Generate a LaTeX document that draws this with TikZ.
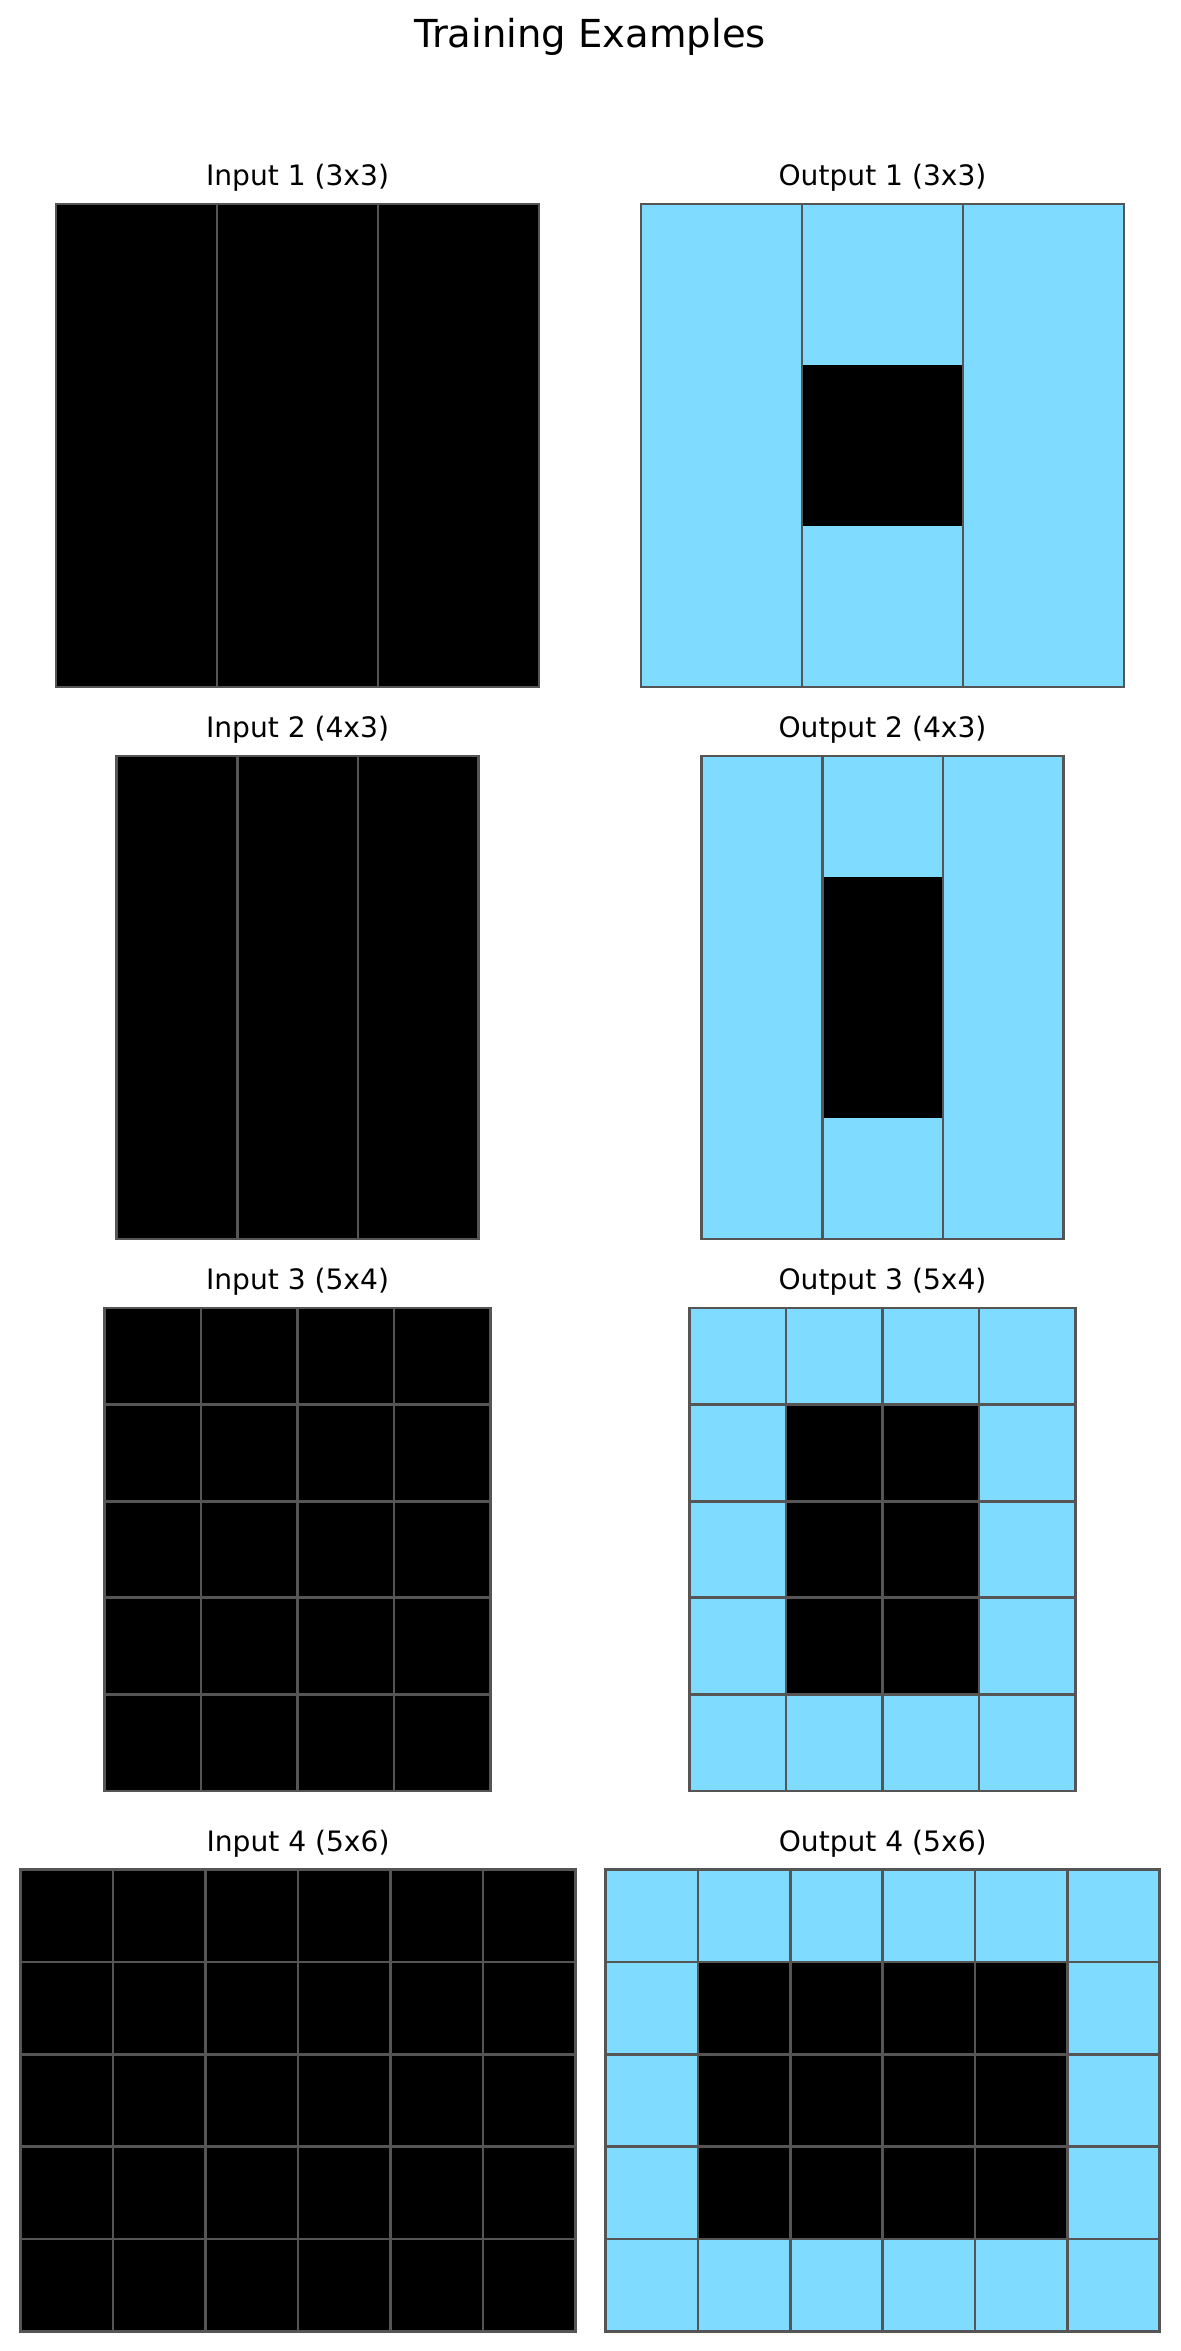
\documentclass[tikz,border=0pt]{standalone}
\usepackage{fontspec}
\setmainfont{DejaVu Sans}
\definecolor{arcblue}{HTML}{7FDBFF}
\definecolor{gridgray}{HTML}{555555}
\tikzset{
  celltext/.style={font=\fontsize{13.5}{16}\selectfont, inner sep=0pt},
  titletext/.style={font=\fontsize{18.5}{22}\selectfont, inner sep=0pt},
  gridline/.style={draw=gridgray, line width=1.3pt}
}
% #1 x0, #2 y0, #3 cell w, #4 cell h, #5 rows, #6 cols, #7 output flag, #8 horizontal lines flag
\newcommand{\arcgrid}[8]{%
  \foreach \r in {1,...,#5} {
    \foreach \c in {1,...,#6} {
      \pgfmathtruncatemacro{\blk}{((#7==0) || (\r>1 && \r<#5 && \c>1 && \c<#6)) ? 1 : 0}
      \ifnum\blk=1 \def\fc{black}\else\def\fc{arcblue}\fi
      \fill[\fc] ({#1+(\c-1)*#3},{#2+(\r-1)*#4}) rectangle ++(#3,#4);
    }
  }
  \foreach \c in {1,...,#6} {
    \draw[gridline] ({#1+\c*#3},{#2}) -- ++(0,{#5*#4});
  }
  \ifnum#8=1
  \foreach \r in {1,...,#5} {
    \draw[gridline] ({#1},{#2+\r*#4}) -- ++({#6*#3},0);
  }
  \fi
  \draw[gridline] ({#1},{#2}) rectangle ++({#6*#3},{#5*#4});
}
\begin{document}
\begin{tikzpicture}[x=0.48pt,y=-0.48pt]
\useasboundingbox (0,0) rectangle (1180,2351);
\node[titletext] (title) at (590,37) {Training Examples};
% Row 1
\node[celltext] (lin1) at (297.5,178) {Input 1 (3x3)};
\node[celltext] (lout1) at (882.5,178) {Output 1 (3x3)};
\arcgrid{56}{204}{161}{161}{3}{3}{0}{0}
\arcgrid{641}{204}{161}{161}{3}{3}{1}{0}
% Row 2
\node[celltext] (lin2) at (297.5,730) {Input 2 (4x3)};
\node[celltext] (lout2) at (882.5,730) {Output 2 (4x3)};
\arcgrid{116.4}{756}{120.75}{120.75}{4}{3}{0}{0}
\arcgrid{701.4}{756}{120.75}{120.75}{4}{3}{1}{0}
% Row 3
\node[celltext] (lin3) at (297.5,1282) {Input 3 (5x4)};
\node[celltext] (lout3) at (882.5,1282) {Output 3 (5x4)};
\arcgrid{104.3}{1308}{96.6}{96.6}{5}{4}{0}{1}
\arcgrid{689.3}{1308}{96.6}{96.6}{5}{4}{1}{1}
% Row 4
\node[celltext] (lin4) at (298,1843.5) {Input 4 (5x6)};
\node[celltext] (lout4) at (882.7,1843.5) {Output 4 (5x6)};
\arcgrid{20.7}{1869.5}{92.43}{92.36}{5}{6}{0}{1}
\arcgrid{605.7}{1869.5}{92.33}{92.36}{5}{6}{1}{1}
\end{tikzpicture}
\end{document}
